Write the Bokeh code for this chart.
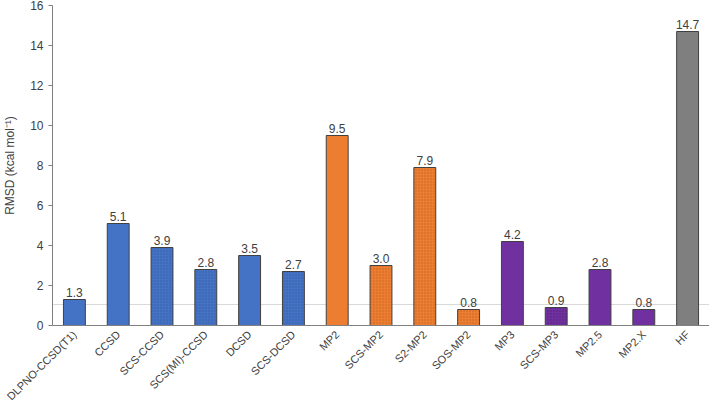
from bokeh.plotting import figure
from bokeh.models import ColumnDataSource, Span, FixedTicker, LabelSet
from bokeh.embed import file_html
from bokeh.resources import INLINE
from bokeh.core.properties import value
import math

methods = ["DLPNO-CCSD(T1)", "CCSD", "SCS-CCSD", "SCS(MI)-CCSD", "DCSD", "SCS-DCSD",
           "MP2", "SCS-MP2", "S2-MP2", "SOS-MP2", "MP3", "SCS-MP3", "MP2.5", "MP2.X", "HF"]
rmsd = [1.3, 5.1, 3.9, 2.8, 3.5, 2.7, 9.5, 3.0, 7.9, 0.8, 4.2, 0.9, 2.8, 0.8, 14.7]
groups = ["CC", "CC", "CC", "CC", "CC", "CC", "MP2", "MP2", "MP2", "MP2",
          "MP3", "MP3", "MP3", "MP3", "HF"]
scaled = [False, False, True, True, False, True, False, True, True, True,
          False, True, False, False, False]
reference_line = 1.05
y_ticks = [0, 2, 4, 6, 8, 10, 12, 14, 16]

fill_map = {"CC": "#4472C4", "MP2": "#ED7D31", "MP3": "#7030A0", "HF": "#7F7F7F"}
hatch_map = {"CC": "#2F5597", "MP2": "#B65A1C", "MP3": "#4A1F6B", "HF": "#595959"}

src = ColumnDataSource(dict(
    x=methods, top=rmsd,
    fill=[fill_map[g] for g in groups],
    hcol=[hatch_map[g] for g in groups],
    hpat=["dot" if s else " " for s in scaled],
    lab=[f"{v:.1f}" for v in rmsd],
))

p = figure(x_range=methods, y_range=(0, 16), width=709, height=409,
           output_backend="svg", toolbar_location=None,
           min_border_left=50, min_border_right=0, min_border_top=5, min_border_bottom=84)

p.add_layout(Span(location=reference_line, dimension="width", line_color="#D9D9D9",
                  line_width=1, level="underlay"), "center")

p.vbar(x="x", top="top", width=0.5, source=src, fill_color="fill",
       line_color="#404040", line_width=1,
       hatch_pattern="hpat", hatch_color="hcol", hatch_scale=3, hatch_alpha=0.7, hatch_weight=1)

labels = LabelSet(x="x", y="top", text="lab", source=src, text_align="center",
                  text_baseline="bottom", y_offset=3, text_font_size="12px",
                  text_color="#404040", text_font=value("Liberation Sans"))
p.add_layout(labels)

p.outline_line_color = None
p.xgrid.grid_line_color = None
p.ygrid.grid_line_color = None

p.yaxis.ticker = FixedTicker(ticks=y_ticks)
p.yaxis.minor_tick_line_color = None
p.yaxis.major_tick_out = 4
p.yaxis.major_tick_in = 0
p.yaxis.axis_label = "RMSD (kcal mol\u207b\u00b9)"
p.yaxis.axis_label_text_font_style = "normal"
p.yaxis.axis_label_text_font_size = "12px"
p.yaxis.axis_label_text_font = "Liberation Sans"
p.yaxis.axis_label_text_color = "#404040"
p.yaxis.axis_label_standoff = 10

for ax in (p.xaxis[0], p.yaxis[0]):
    ax.axis_line_color = "#808080"
    ax.major_tick_line_color = "#808080"
    ax.major_label_text_font = "Liberation Sans"
    ax.major_label_text_font_size = "12px"
    ax.major_label_text_color = "#404040"

p.xaxis.major_tick_line_color = None
p.xaxis.major_tick_out = 0
p.xaxis.major_tick_in = 0
p.xaxis.major_label_text_font_size = "11px"
p.xaxis.major_label_orientation = math.pi / 4
p.xaxis.major_label_standoff = 7

open("out.html", "w").write(file_html(p, INLINE))
